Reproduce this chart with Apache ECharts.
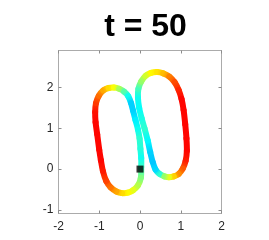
<!DOCTYPE html>
<html>
<head>
<meta charset="utf-8">
<script src="https://cdn.jsdelivr.net/npm/echarts@6/dist/echarts.min.js"></script>
<style>
html,body{margin:0;padding:0;background:#fff;}
#chart{width:269px;height:240px;}
</style>
</head>
<body>
<div id="chart"></div>
<script>
// ---- data ----
var titleText = 't = 50';
var xTicks = [-2, -1, 0, 1, 2];
var yTicks = [-1, 0, 1, 2];

// left loop: x, y, colour value (jet 0..1)
var leftX = [0.03, 0.02, -0.05, -0.17, -0.30, -0.44, -0.58, -0.72, -0.83, -0.91, -0.96, -1.00, -1.05, -1.09, -1.10, -1.08, -1.01, -0.90, -0.77, -0.64, -0.51, -0.39, -0.29, -0.22, -0.17, -0.11, -0.05, -0.01, 0.01, 0.03];
var leftY = [0.05, -0.22, -0.40, -0.52, -0.58, -0.59, -0.55, -0.45, -0.29, -0.05, 0.22, 0.47, 0.85, 1.15, 1.40, 1.62, 1.80, 1.93, 1.99, 2.00, 1.97, 1.90, 1.79, 1.62, 1.43, 1.20, 0.97, 0.75, 0.50, 0.27];
var leftV = [0.43, 0.50, 0.55, 0.60, 0.63, 0.66, 0.71, 0.76, 0.81, 0.85, 0.87, 0.87, 0.87, 0.87, 0.86, 0.82, 0.77, 0.71, 0.66, 0.62, 0.54, 0.46, 0.39, 0.33, 0.33, 0.36, 0.39, 0.42, 0.41, 0.39];

// right loop
var rightX = [0.60, 0.48, 0.38, 0.31, 0.25, 0.19, 0.11, 0.04, -0.02, -0.05, -0.04, 0.03, 0.14, 0.27, 0.42, 0.57, 0.72, 0.85, 0.95, 1.02, 1.07, 1.11, 1.14, 1.15, 1.12, 1.05, 0.95, 0.83, 0.71];
var rightY = [-0.18, -0.12, -0.01, 0.18, 0.42, 0.70, 1.00, 1.25, 1.50, 1.75, 1.97, 2.15, 2.29, 2.36, 2.38, 2.35, 2.27, 2.13, 1.94, 1.72, 1.45, 1.10, 0.75, 0.45, 0.20, 0.01, -0.12, -0.18, -0.20];
var rightV = [0.52, 0.42, 0.34, 0.32, 0.33, 0.37, 0.42, 0.40, 0.38, 0.39, 0.44, 0.52, 0.58, 0.63, 0.65, 0.69, 0.75, 0.80, 0.84, 0.87, 0.87, 0.87, 0.87, 0.87, 0.85, 0.79, 0.74, 0.67, 0.60];

var markerX = [0];
var markerY = [0];

// ---- helpers ----
function clamp(a){ return Math.max(0, Math.min(1, a)); }
function jet(v){
  var r = clamp(1.5 - Math.abs(4*v - 3));
  var g = clamp(1.5 - Math.abs(4*v - 2));
  var b = clamp(1.5 - Math.abs(4*v - 1));
  return 'rgb(' + Math.round(r*255) + ',' + Math.round(g*255) + ',' + Math.round(b*255) + ')';
}

function loopSeries(xs, ys, vs){
  var n = xs.length;
  var data = [];
  for (var i = 0; i < n; i++) data.push([xs[i], ys[i], vs[i]]);
  return {
    type: 'custom',
    coordinateSystem: 'cartesian2d',
    xAxisIndex: 0, yAxisIndex: 0,
    data: data,
    encode: {x: 0, y: 1},
    clip: false,
    silent: true,
    z: 2,
    renderItem: function(params, api){
      var i = params.dataIndex;
      var im1 = (i - 1 + n) % n, ip1 = (i + 1) % n, ip2 = (i + 2) % n;
      var p0 = api.coord([xs[im1], ys[im1]]);
      var p1 = api.coord([xs[i], ys[i]]);
      var p2 = api.coord([xs[ip1], ys[ip1]]);
      var p3 = api.coord([xs[ip2], ys[ip2]]);
      var c1 = [p1[0] + (p2[0] - p0[0]) / 6, p1[1] + (p2[1] - p0[1]) / 6];
      var c2 = [p2[0] - (p3[0] - p1[0]) / 6, p2[1] - (p3[1] - p1[1]) / 6];
      var grad = new echarts.graphic.LinearGradient(p1[0], p1[1], p2[0], p2[1], [
        {offset: 0, color: jet(vs[i])},
        {offset: 1, color: jet(vs[ip1])}
      ], true);
      return {
        type: 'bezierCurve',
        shape: {x1: p1[0], y1: p1[1], x2: p2[0], y2: p2[1], cpx1: c1[0], cpy1: c1[1], cpx2: c2[0], cpy2: c2[1]},
        style: {fill: 'none', stroke: grad, lineWidth: 6, lineCap: 'round'}
      };
    }
  };
}

var axisColor = '#ababab';
var tickColor = '#8c8c8c';
var labelFont = {fontFamily: 'Liberation Sans', fontSize: 12, color: '#262626'};

var chart = echarts.init(document.getElementById('chart'), null, {renderer: 'canvas'});
chart.setOption({
  animation: false,
  backgroundColor: '#fff',
  title: {
    text: titleText,
    left: 140.5,
    textAlign: 'center',
    top: 6,
    textStyle: {fontFamily: 'Liberation Sans', fontWeight: 'bold', fontSize: 32, color: '#000'}
  },
  grid: {left: 58.5, top: 50.5, width: 163, height: 163, containLabel: false},
  xAxis: [{
    type: 'value', min: -2, max: 2, interval: 1, position: 'bottom',
    axisLine: {show: true, onZero: false, lineStyle: {color: axisColor, width: 1}},
    axisTick: {show: true, inside: true, length: 3, lineStyle: {color: tickColor}},
    axisLabel: Object.assign({margin: 7, customValues: xTicks}, labelFont),
    splitLine: {show: false}
  }, {
    type: 'value', min: -2, max: 2, interval: 1, position: 'top',
    axisLine: {show: true, onZero: false, lineStyle: {color: axisColor, width: 1}},
    axisTick: {show: true, inside: true, length: 3, lineStyle: {color: tickColor}},
    axisLabel: {show: false},
    splitLine: {show: false}
  }],
  yAxis: [{
    type: 'value', min: -1.09, max: 2.91, position: 'left',
    axisLine: {show: true, onZero: false, lineStyle: {color: axisColor, width: 1}},
    axisTick: {show: true, inside: true, length: 3, customValues: yTicks, lineStyle: {color: tickColor}},
    axisLabel: Object.assign({margin: 5, customValues: yTicks}, labelFont),
    splitLine: {show: false}
  }, {
    type: 'value', min: -1.09, max: 2.91, position: 'right',
    axisLine: {show: true, onZero: false, lineStyle: {color: axisColor, width: 1}},
    axisTick: {show: true, inside: true, length: 3, customValues: yTicks, lineStyle: {color: tickColor}},
    axisLabel: {show: false},
    splitLine: {show: false}
  }],
  series: [
    loopSeries(leftX, leftY, leftV),
    loopSeries(rightX, rightY, rightV),
    {
      type: 'scatter',
      xAxisIndex: 0, yAxisIndex: 0,
      data: markerX.map(function(x, i){ return [x, markerY[i]]; }),
      symbol: 'rect',
      symbolSize: 7,
      itemStyle: {color: '#000'},
      z: 5,
      silent: true
    }
  ]
});
</script>
</body>
</html>
